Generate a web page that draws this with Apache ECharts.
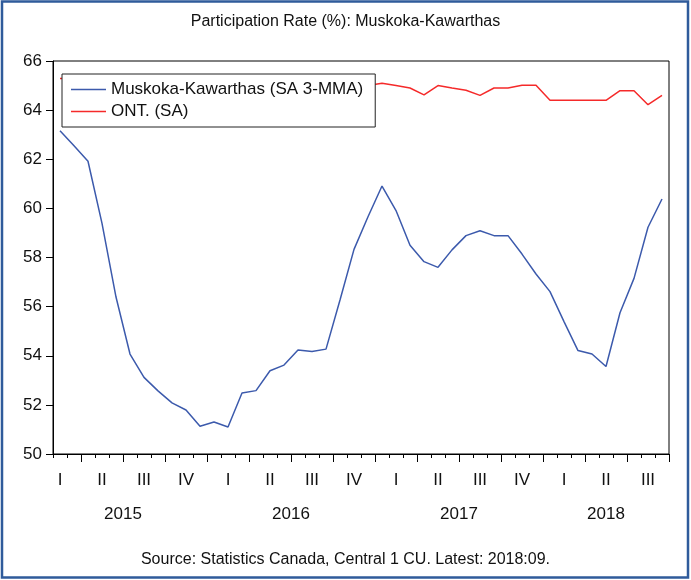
<!DOCTYPE html>
<html>
<head>
<meta charset="utf-8">
<script src="https://cdn.jsdelivr.net/npm/echarts@6/dist/echarts.min.js"></script>
<style>
  html, body { margin: 0; padding: 0; background: #fff; }
  #chart { width: 691px; height: 580px; }
</style>
</head>
<body>
<div id="chart"></div>
<script>
// monthly, Feb 2015 .. Sep 2018
const months = [
  '2015-02','2015-03','2015-04','2015-05','2015-06','2015-07','2015-08','2015-09','2015-10','2015-11','2015-12',
  '2016-01','2016-02','2016-03','2016-04','2016-05','2016-06','2016-07','2016-08','2016-09','2016-10','2016-11','2016-12',
  '2017-01','2017-02','2017-03','2017-04','2017-05','2017-06','2017-07','2017-08','2017-09','2017-10','2017-11','2017-12',
  '2018-01','2018-02','2018-03','2018-04','2018-05','2018-06','2018-07','2018-08','2018-09'
]
const quarterNames = ['I', 'II', 'III', 'IV']
const years = [2015, 2016, 2017, 2018]

// Muskoka-Kawarthas (SA 3-MMA)
const muskoka = [
  63.16, 62.55, 61.92, 59.39, 56.39, 54.07, 53.12, 52.57, 52.08, 51.79, 51.13,
  51.30, 51.10, 52.48, 52.58, 53.39, 53.62, 54.23, 54.17, 54.27, 56.27, 58.33, 59.66,
  60.91, 59.91, 58.50, 57.83, 57.60, 58.31, 58.89, 59.09, 58.89, 58.89, 58.14, 57.33,
  56.61, 55.39, 54.21, 54.07, 53.56, 55.75, 57.15, 59.23, 60.38
]
// ONT. (SA)
const ontario = [
  65.29, 65.3, 65.2, 65.3, 65.2, 65.1, 65.2, 65.2, 65.1, 65.2, 65.0,
  65.1, 65.0, 65.1, 65.0, 64.9, 65.0, 64.9, 65.0, 65.0, 64.9, 65.0, 65.0,
  65.09, 65.0, 64.90, 64.62, 65.0, 64.90, 64.81, 64.60, 64.90, 64.90, 65.01, 65.01,
  64.40, 64.40, 64.40, 64.40, 64.40, 64.79, 64.79, 64.22, 64.60
]

const monthOf = m => parseInt(m.slice(5), 10)

// band-edge positions (0..n) of quarter starts, and of year centres
const quarterEdges = []
months.forEach((m, i) => { if ((monthOf(m) - 1) % 3 === 0) quarterEdges.push(i) })
quarterEdges.push(months.length)
const firstIdx = months.findIndex(m => monthOf(m) === 1) - 12 // virtual Jan of first year
const yearCentres = years.map((y, k) => {
  const s = firstIdx + 12 * k
  const e = Math.min(s + 12, months.length)
  return (s + e) / 2
})

const font = 'Liberation Sans, Arial, sans-serif'
const chart = echarts.init(document.getElementById('chart'))

chart.setOption({
  backgroundColor: '#fff',
  animation: false,
  title: [
    {
      text: 'Participation Rate (%): Muskoka-Kawarthas',
      left: 'center',
      top: 9,
      textStyle: { fontFamily: font, fontSize: 16, fontWeight: 'normal', color: '#111' }
    },
    {
      text: 'Source: Statistics Canada, Central 1 CU. Latest: 2018:09.',
      left: 'center',
      top: 547,
      textStyle: { fontFamily: font, fontSize: 16, fontWeight: 'normal', color: '#111' }
    }
  ],
  graphic: [
    {
      type: 'rect',
      shape: { x: 2, y: 1.5, width: 686, height: 576 },
      style: { fill: 'none', stroke: '#2f5b9b', lineWidth: 2.5 },
      silent: true
    }
  ],
  legend: {
    left: 62,
    top: 74,
    orient: 'vertical',
    backgroundColor: '#fff',
    borderColor: '#222',
    borderWidth: 1,
    padding: [7, 12, 7, 9],
    itemGap: 5,
    itemWidth: 35,
    itemHeight: 1.5,
    icon: 'rect',
    textStyle: { fontFamily: font, fontSize: 17, color: '#111' },
    data: ['Muskoka-Kawarthas (SA 3-MMA)', 'ONT. (SA)']
  },
  grid: {
    left: 53,
    right: 22,
    top: 61,
    bottom: 126,
    show: true,
    borderColor: '#000',
    borderWidth: 1
  },
  xAxis: [
    {
      type: 'category',
      data: months,
      boundaryGap: true,
      axisLine: { lineStyle: { color: '#000', width: 1 } },
      axisTick: { show: true, interval: 0, length: 4, lineStyle: { color: '#000' } },
      axisLabel: {
        interval: (i, v) => (monthOf(v) - 1) % 3 === 1,
        formatter: v => quarterNames[Math.floor((monthOf(v) - 1) / 3)],
        margin: 18,
        fontFamily: font,
        fontSize: 17,
        color: '#111'
      },
      splitLine: { show: false }
    },
    {
      type: 'value',
      position: 'bottom',
      min: 0,
      max: months.length,
      axisLine: { show: false },
      axisTick: {
        show: true,
        customValues: quarterEdges,
        length: 8,
        lineStyle: { color: '#000' }
      },
      axisLabel: {
        customValues: yearCentres,
        formatter: v => String(years[yearCentres.indexOf(v)]),
        margin: 52,
        fontFamily: font,
        fontSize: 17,
        color: '#111'
      },
      splitLine: { show: false }
    }
  ],
  yAxis: {
    type: 'value',
    min: 50,
    max: 66,
    interval: 2,
    axisLine: { show: true, lineStyle: { color: '#000' } },
    axisTick: { show: true, length: 7, lineStyle: { color: '#000' } },
    axisLabel: { margin: 11, fontFamily: font, fontSize: 17, color: '#111' },
    splitLine: { show: false }
  },
  series: [
    {
      name: 'Muskoka-Kawarthas (SA 3-MMA)',
      type: 'line',
      data: muskoka,
      symbol: 'none',
      color: '#3c5aac',
      lineStyle: { width: 1.5, color: '#3c5aac' }
    },
    {
      name: 'ONT. (SA)',
      type: 'line',
      data: ontario,
      symbol: 'none',
      color: '#f52a2a',
      lineStyle: { width: 1.5, color: '#f52a2a' }
    }
  ]
})
</script>
</body>
</html>
